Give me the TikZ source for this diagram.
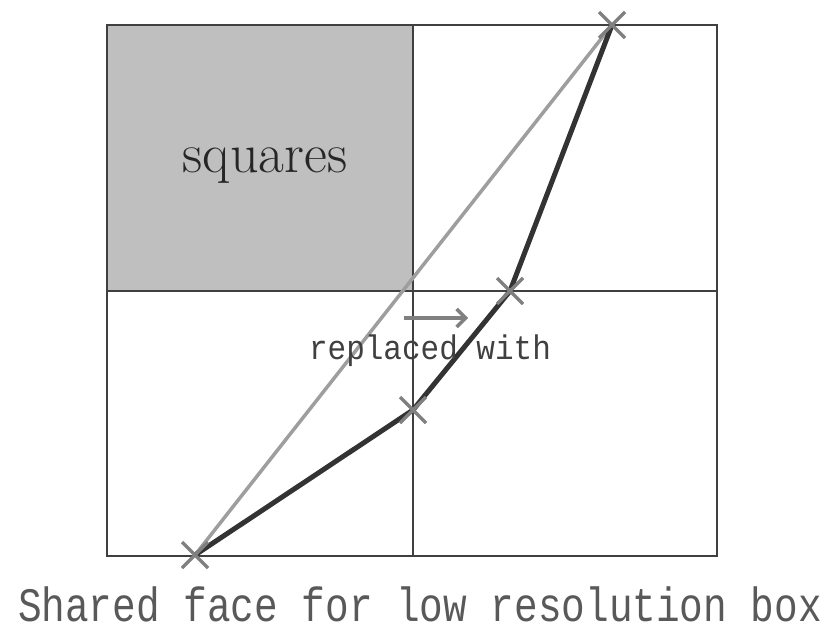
\documentclass[tikz,border=0pt]{standalone}
\usepackage{fontspec}
\setmonofont{Liberation Mono}
\usepackage{graphicx}
\usetikzlibrary{calc,arrows.meta}
\begin{document}
\begin{tikzpicture}[x=1pt,y=-1pt,
    every node/.style={font=\ttfamily},
    gridline/.style={draw=black!75,line width=2.2pt},
    cross/.style={draw=black!50,line width=3.5pt},
    tall/.style={inner sep=0pt}]
    \useasboundingbox (0,0) rectangle (832,632);
    % grid of the low resolution box
    \fill[black!25] (107,25) rectangle (413,291);
    \draw[gridline] (107,25) rectangle (717,556);
    \draw[gridline] (413,25) -- (413,556);
    \draw[gridline] (107,291) -- (717,291);
    % points of the shared face
    \coordinate (a) at (195,555);
    \coordinate (b) at (413,410);
    \coordinate (c) at (510,291);
    \coordinate (d) at (612,25);
    \draw[black!38,line width=3.5pt] (a) -- (d);
    \draw[black!80,line width=5pt,line join=round] (a) -- (b) -- (c) -- (d);
    \foreach \p in {a,b,c,d}
        \draw[cross] ($(\p)+(-13,-13)$) -- ($(\p)+(13,13)$)
                     ($(\p)+(-13,13)$) -- ($(\p)+(13,-13)$);
    \coordinate (arrs) at (404,318);
    \coordinate (arre) at (468,318);
    \draw[black!50,line width=3.5pt,-{Straight Barb[length=9pt,width=18pt]}] (arrs) -- (arre);
    \node[tall,font=\fontsize{56}{56}\rmfamily,text=black!85] (sq) at (265,166) {squares};
    \node[tall,font=\fontsize{31}{31}\ttfamily,text=black!75] (rep) at (430,351) {\scalebox{1}[1.1]{replaced with}};
    \node[tall,font=\fontsize{40}{40}\ttfamily,text=black!65] (cap) at (420,604) {\scalebox{0.985}[1.2]{Shared face for low resolution box}};
\end{tikzpicture}
\end{document}
